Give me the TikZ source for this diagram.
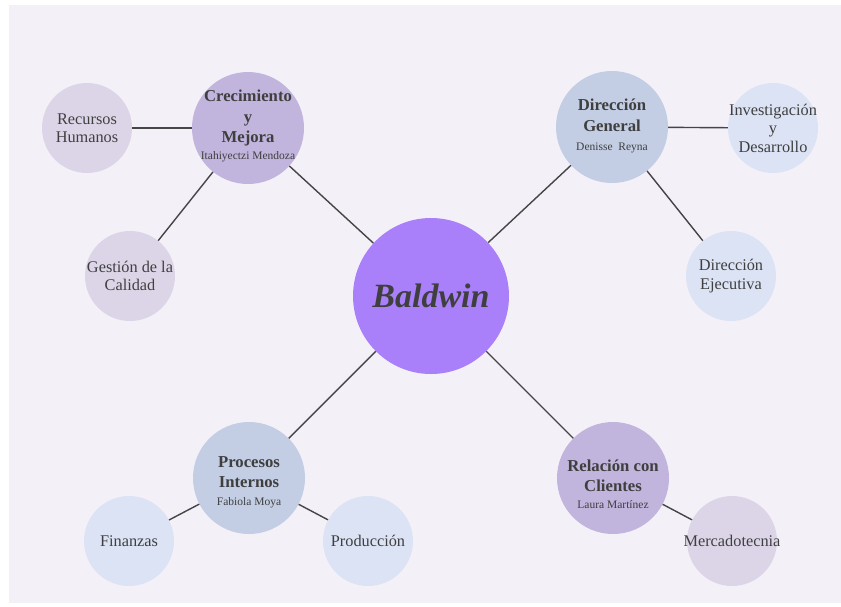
\documentclass[tikz,border=0pt]{standalone}
\usepackage{fontspec}
\setmainfont{Liberation Serif}
\newcommand\subtxt{\fontsize{11.5}{13}\selectfont\mdseries}
\begin{document}
\begin{tikzpicture}[x=1pt,y=-1pt,
  ball/.style={circle,inner sep=0pt},
  lbl/.style={inner sep=0pt,align=center,text=txt},
  central/.style={ball,fill=cpurple,minimum size=156pt},
  major/.style={ball,minimum size=112pt},
  minor/.style={ball,minimum size=90pt},
  majortxt/.style={lbl,font=\fontsize{16.7}{20.5}\selectfont\bfseries},
  minortxt/.style={lbl,font=\fontsize{16.3}{18.5}\selectfont},
  link/.style={draw=lnk,line width=1.4pt}]
\definecolor{bg}{HTML}{F3F0F8}
\definecolor{cpurple}{HTML}{A980F9}
\definecolor{mpurple}{HTML}{C1B4DD}
\definecolor{mblue}{HTML}{C3CEE4}
\definecolor{lpurple}{HTML}{DCD5E8}
\definecolor{lblue}{HTML}{DCE3F4}
\definecolor{txt}{HTML}{3F3F3F}
\definecolor{lnk}{HTML}{454545}
\useasboundingbox (0,0) rectangle (841,606);
\fill[white] (0,0) rectangle (841,606);
\fill[bg] (9,5) rectangle (841,603);
\node[central] (b) at (431,296) {};
\node[major,fill=mpurple] (cm) at (248,128) {};
\node[major,fill=mblue] (dg) at (612,127) {};
\node[major,fill=mblue] (pi) at (249,478) {};
\node[major,fill=mpurple] (rc) at (613,478) {};
\node[minor,fill=lpurple] (rh) at (87,128) {};
\node[minor,fill=lpurple] (gc) at (130,276) {};
\node[minor,fill=lblue] (id) at (773,128) {};
\node[minor,fill=lblue] (de) at (731,276) {};
\node[minor,fill=lblue] (fi) at (129,541) {};
\node[minor,fill=lblue] (pr) at (368,541) {};
\node[minor,fill=lpurple] (me) at (732,541) {};
\node[lbl,font=\fontsize{34}{38}\selectfont\bfseries\itshape] (bt) at (b) {Baldwin};
\node[majortxt] (cmt) at (248,126) {Crecimiento\\y\\Mejora\\[-4pt]{\subtxt Itahiyectzi Mendoza}};
\node[majortxt] (dgt) at (612,126) {Dirección\\General\\[-1pt]{\subtxt Denisse\ \ Reyna}};
\node[majortxt] (pit) at (249,482) {Procesos\\Internos\\[-3pt]{\subtxt Fabiola Moya}};
\node[majortxt] (rct) at (613,484) {Relación con\\Clientes\\[-4pt]{\subtxt Laura Martínez}};
\node[minortxt] (rht) at (rh) {Recursos\\Humanos};
\node[minortxt] (gct) at (gc) {Gestión de la\\Calidad};
\node[minortxt] (idt) at (id) {Investigación\\y\\Desarrollo};
\node[minortxt] (det) at (de) {Dirección\\Ejecutiva};
\node[minortxt] (fit) at (fi) {Finanzas};
\node[minortxt] (prt) at (pr) {Producción};
\node[minortxt] (met) at (me) {Mercadotecnia};
\draw[link] (b) -- (cm);
\draw[link] (b) -- (dg);
\draw[link] (b) -- (pi);
\draw[link] (b) -- (rc);
\draw[link] (cm) -- (rh);
\draw[link] (cm) -- (gc);
\draw[link] (dg) -- (id);
\draw[link] (dg) -- (de);
\draw[link] (pi) -- (fi);
\draw[link] (pi) -- (pr);
\draw[link] (rc) -- (me);
\end{tikzpicture}
\end{document}
